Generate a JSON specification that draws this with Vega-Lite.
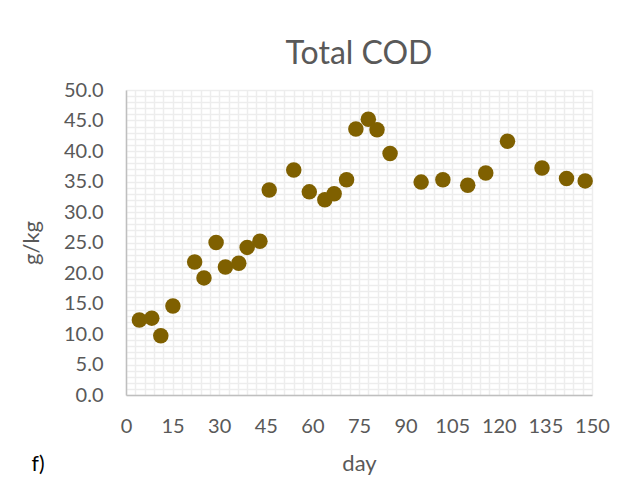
{
  "$schema": "https://vega.github.io/schema/vega-lite/v6.json",
  "width": 466,
  "height": 305,
  "autosize": {"type": "none"},
  "padding": {"left": 126, "top": 90, "right": 40, "bottom": 86},
  "background": "white",
  "config": {
    "font": "Lato",
    "view": {"stroke": null},
    "axis": {
      "labelFont": "Lato",
      "titleFont": "Lato",
      "labelColor": "#595959",
      "titleColor": "#595959",
      "labelFontSize": 20,
      "titleFontSize": 22,
      "titleFontWeight": "normal",
      "gridColor": "#ededed",
      "gridWidth": 1.5,
      "domainColor": "#bfbfbf",
      "domainWidth": 1.5,
      "ticks": false,
      "labelFlush": false
    }
  },
  "title": {
    "text": "Total COD",
    "font": "Lato",
    "fontSize": 32,
    "fontWeight": "normal",
    "color": "#595959",
    "anchor": "middle",
    "baseline": "alphabetic",
    "offset": -16
  },
  "data": {
    "values": [
      {"day": 4.3, "cod": 12.3},
      {"day": 8.3, "cod": 12.6},
      {"day": 11.2, "cod": 9.7},
      {"day": 15.1, "cod": 14.6},
      {"day": 22.1, "cod": 21.8},
      {"day": 25.1, "cod": 19.2},
      {"day": 29.0, "cod": 25.0},
      {"day": 32.0, "cod": 21.0},
      {"day": 36.3, "cod": 21.6},
      {"day": 39.0, "cod": 24.2},
      {"day": 43.1, "cod": 25.2},
      {"day": 46.1, "cod": 33.6},
      {"day": 54.0, "cod": 36.9},
      {"day": 59.0, "cod": 33.3},
      {"day": 64.0, "cod": 32.0},
      {"day": 67.0, "cod": 33.0},
      {"day": 71.0, "cod": 35.3},
      {"day": 74.0, "cod": 43.6},
      {"day": 78.0, "cod": 45.2},
      {"day": 80.8, "cod": 43.5},
      {"day": 85.0, "cod": 39.6},
      {"day": 95.0, "cod": 34.9},
      {"day": 102.0, "cod": 35.3},
      {"day": 110.0, "cod": 34.4},
      {"day": 115.8, "cod": 36.4},
      {"day": 122.8, "cod": 41.6},
      {"day": 133.9, "cod": 37.2},
      {"day": 141.8, "cod": 35.5},
      {"day": 147.8, "cod": 35.1}
    ]
  },
  "encoding": {
    "x": {
      "field": "day",
      "type": "quantitative",
      "scale": {"domain": [0, 150], "nice": false, "zero": false},
      "axis": {
        "title": "day",
        "values": [0,3,6,9,12,15,18,21,24,27,30,33,36,39,42,45,48,51,54,57,60,63,66,69,72,75,78,81,84,87,90,93,96,99,102,105,108,111,114,117,120,123,126,129,132,135,138,141,144,147,150],
        "labelExpr": "datum.value % 15 == 0 ? datum.label : ''",
        "labelPadding": 21,
        "labelOverlap": false,
        "titlePadding": 17
      }
    },
    "y": {
      "field": "cod",
      "type": "quantitative",
      "scale": {"domain": [0, 50], "nice": false},
      "axis": {
        "title": "g/kg",
        "values": [0,1,2,3,4,5,6,7,8,9,10,11,12,13,14,15,16,17,18,19,20,21,22,23,24,25,26,27,28,29,30,31,32,33,34,35,36,37,38,39,40,41,42,43,44,45,46,47,48,49,50],
        "format": ".1f",
        "labelExpr": "datum.value % 5 == 0 ? datum.label : ''",
        "labelPadding": 23,
        "labelOverlap": false,
        "titlePadding": 20
      }
    }
  },
  "layer": [
    {
      "mark": {"type": "point", "filled": true, "opacity": 1, "size": 240, "color": "#7f6000"}
    },
    {
      "data": {"values": [{"day": -28.3, "cod": -11.5, "label": "f)"}]},
      "mark": {"type": "text", "fontSize": 21, "font": "Lato", "color": "#000000", "align": "center", "baseline": "middle"},
      "encoding": {
        "text": {"field": "label"}
      }
    }
  ]
}
